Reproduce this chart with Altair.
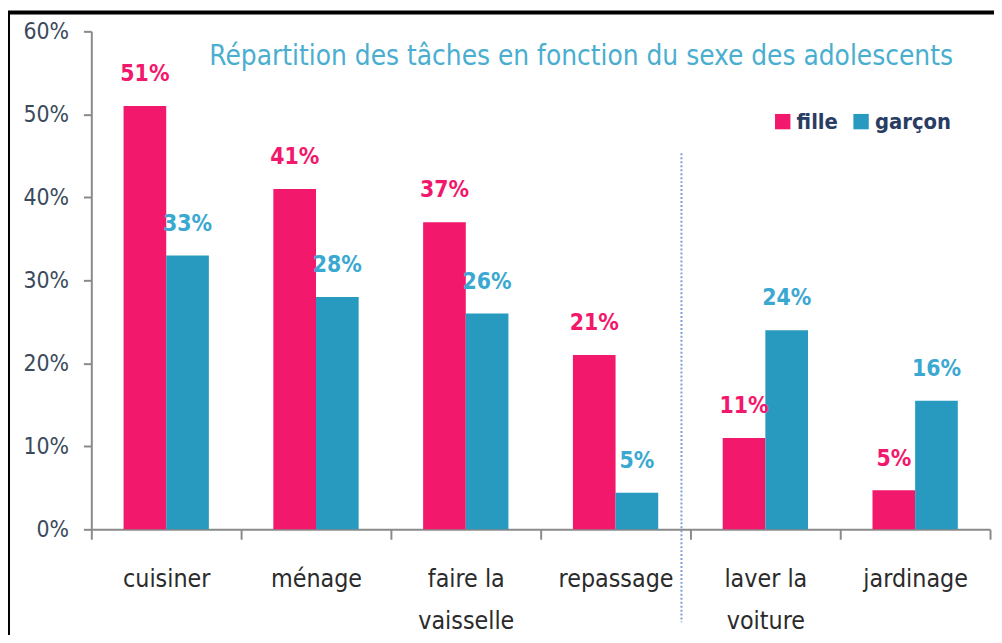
import altair as alt
import pandas as pd

categories = ["cuisiner", "ménage", "faire la|vaisselle", "repassage", "laver la|voiture", "jardinage"]
series = ["fille", "garçon"]
fille = [0.51, 0.41, 0.37, 0.21, 0.11, 0.047]
garcon = [0.33, 0.28, 0.26, 0.044, 0.24, 0.155]
fille_labels = ["51%", "41%", "37%", "21%", "11%", "5%"]
garcon_labels = ["33%", "28%", "26%", "5%", "24%", "16%"]
y_ticks = [0.0, 0.1, 0.2, 0.3, 0.4, 0.5, 0.6]

PINK = "#F2186C"
BLUE = "#2899BF"
BLUE_TXT = "#3AA8D0"
FONT = "Liberation Sans Narrow, DejaVu Sans Condensed, Liberation Sans, sans-serif"

rows = []
for i, c in enumerate(categories):
    rows.append({"cat": c, "sexe": series[0], "val": fille[i], "label": fille_labels[i]})
    rows.append({"cat": c, "sexe": series[1], "val": garcon[i], "label": garcon_labels[i]})
df = pd.DataFrame(rows)

x = alt.X(
    "cat:N",
    sort=categories,
    scale=alt.Scale(paddingInner=0, paddingOuter=0),
    axis=alt.Axis(
        title=None, labelAngle=0, labelExpr="split(datum.label, '|')",
        tickBand="extent", labelFontSize=25, labelLineHeight=42, labelPadding=40,
        labelColor="#2b2b2b", labelFont=FONT, domainColor="#8a8a8a", domainWidth=2,
        tickColor="#8a8a8a", tickWidth=2, tickSize=10, labelBaseline="middle",
    ),
)
xo = alt.XOffset("sexe:N", sort=series, scale=alt.Scale(paddingInner=0, paddingOuter=0.756))
y = alt.Y(
    "val:Q",
    scale=alt.Scale(domain=[0, 0.6], nice=False),
    axis=alt.Axis(
        values=y_ticks, format=".0%", title=None, grid=False, tickSize=8,
        labelPadding=15, labelFontSize=23, labelFont=FONT, labelColor="#3a4a5c",
        domainColor="#8a8a8a", domainWidth=2, tickColor="#8a8a8a", tickWidth=2,
    ),
)

base = alt.Chart(df)

bars = base.mark_bar().encode(
    x=x, xOffset=xo, y=y,
    color=alt.Color(
        "sexe:N", sort=series,
        scale=alt.Scale(domain=series, range=[PINK, BLUE]),
        legend=alt.Legend(
            orient="none", legendX=686, legendY=80, direction="horizontal",
            title=None, symbolType="square", symbolSize=240, labelFontSize=22,
            labelFontWeight="bold", labelColor="#283c64", labelFont=FONT,
            columnPadding=12, labelOffset=3, symbolStrokeWidth=0,
        ),
    ),
)

texts = base.mark_text(dy=-32, fontSize=23, fontWeight="bold", font=FONT, baseline="middle").encode(
    x=x, xOffset=xo, y=y,
    text="label:N",
    color=alt.condition(alt.datum.sexe == "fille", alt.value(PINK), alt.value(BLUE_TXT)),
)

one = pd.DataFrame({"a": [0]})
divider = alt.Chart(one).mark_rule(color="#7a9fd6", strokeWidth=2, strokeDash=[2, 2]).encode(
    x=alt.XDatum("repassage", type="nominal", bandPosition=0.94),
    y=alt.YDatum(0.453),
    y2=alt.Y2Datum(-0.112),
)

top_border = alt.Chart(one).mark_rule(color="black", strokeWidth=4).encode(
    x=alt.value(-84), x2=alt.value(910), y=alt.value(-19)
)
left_border = alt.Chart(one).mark_rule(color="black", strokeWidth=2).encode(
    x=alt.value(-83), y=alt.value(-19), y2=alt.value(614)
)

chart = alt.layer(bars, texts, divider, top_border, left_border).properties(
    width=906, height=502,
    autosize="none",
    padding={"left": 84, "top": 21, "right": 4, "bottom": 104},
    title=alt.TitleParams(
        "Répartition des tâches en fonction du sexe des adolescents",
        anchor="start", dx=205, dy=65, fontSize=28, fontWeight="normal",
        font=FONT, color="#4aaed0",
    ),
).configure_view(stroke=None)

chart.save("out.html", embed_options={"renderer": "svg", "actions": False})
